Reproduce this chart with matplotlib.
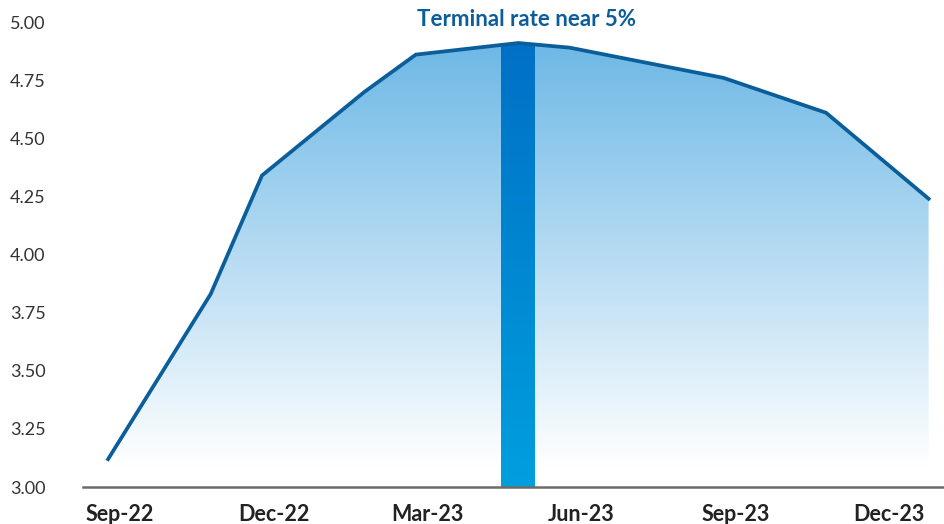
import numpy as np
import matplotlib
matplotlib.use("Agg")
import matplotlib.pyplot as plt
from matplotlib.colors import LinearSegmentedColormap
from matplotlib.patches import Rectangle

plt.rcParams['font.family'] = ['Lato', 'DejaVu Sans']

# month index counted from Sep-22
month_idx = [0, 2, 3, 5, 6, 8, 9, 12, 14, 16]
rates = [3.12, 3.83, 4.34, 4.70, 4.86, 4.91, 4.89, 4.76, 4.61, 4.24]

tick_idx = [0, 3, 6, 9, 12, 15]
tick_labels = ['Sep-22', 'Dec-22', 'Mar-23', 'Jun-23', 'Sep-23', 'Dec-23']
y_ticks = [3.00, 3.25, 3.50, 3.75, 4.00, 4.25, 4.50, 4.75, 5.00]

peak_idx = 8  # May-23, terminal rate
peak_rate = rates[month_idx.index(peak_idx)]

fig = plt.figure(figsize=(9.44, 5.24), dpi=100)
ax = fig.add_axes([0.0879, 0.0706, 0.9121, 0.9294])

ymin, ymax = 3.0, 5.095
x = np.array(month_idx, dtype=float)
y = np.array(rates)

# gradient area under the curve
fill_cmap = LinearSegmentedColormap.from_list('fill', ['#ffffff', '#6db8e6'])
grad = np.linspace(0, 1, 256).reshape(-1, 1)
poly = ax.fill_between(x, y, ymin, color='none', lw=0)
im = ax.imshow(grad, extent=[x[0], x[-1], 3.08, max(rates)], origin='lower',
               aspect='auto', cmap=fill_cmap, zorder=1)
im.set_clip_path(poly.get_paths()[0], transform=ax.transData)

# highlighted bar with its own gradient
bar_w = 0.66
bar = Rectangle((peak_idx - bar_w / 2, ymin), bar_w, peak_rate - ymin,
                facecolor='none', edgecolor='none')
ax.add_patch(bar)
bar_cmap = LinearSegmentedColormap.from_list('bar', ['#009fdd', '#0070c6'])
bim = ax.imshow(grad, extent=[peak_idx - bar_w / 2, peak_idx + bar_w / 2, ymin, peak_rate],
                origin='lower', aspect='auto', cmap=bar_cmap, zorder=2)
bim.set_clip_path(bar)

ax.plot(x, y, color='#0b5e9a', lw=2.7, zorder=3, solid_joinstyle='miter')

ax.text(peak_idx + 0.16, 4.982, 'Terminal rate near 5%', ha='center', va='baseline',
        fontsize=16, fontweight='bold', color='#0b5e9a')

ax.set_xlim(-0.49, 16.3)
ax.set_ylim(ymin, ymax)
ax.set_xticks([t + 0.23 for t in tick_idx])
ax.set_xticklabels(tick_labels, fontsize=15.5, fontweight='bold', color='#222222')
ax.set_yticks(y_ticks)
ax.set_yticklabels([f'{v:.2f}' for v in y_ticks], fontsize=13, color='#333333')
ax.tick_params(axis='both', length=0)
ax.tick_params(axis='x', pad=12)
ax.tick_params(axis='y', pad=27)

for s in ['top', 'right', 'left']:
    ax.spines[s].set_visible(False)
ax.spines['bottom'].set_color('#6e6a67')
ax.spines['bottom'].set_linewidth(1.8)
ax.spines['bottom'].set_zorder(4)

fig.savefig('out.png', dpi=100)
